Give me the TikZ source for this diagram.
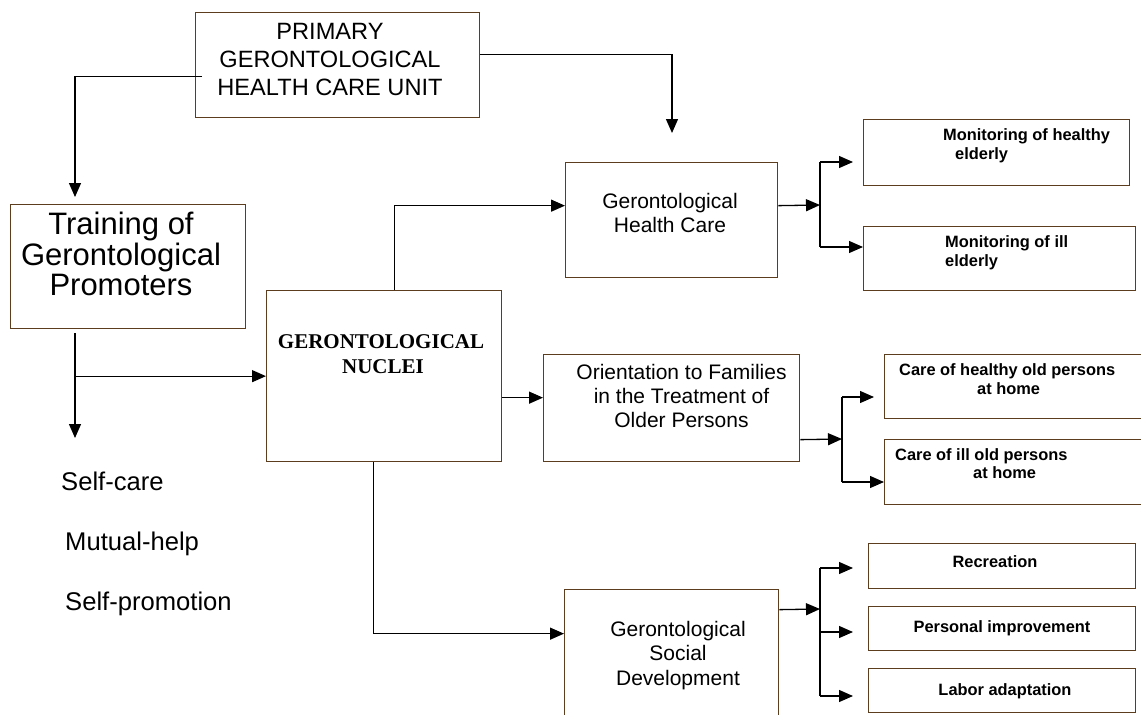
\documentclass[tikz,border=0pt]{standalone}
\usepackage{fontspec}
\setmainfont{Liberation Sans}
\newfontfamily\timesf{Liberation Serif}
\usetikzlibrary{arrows.meta,calc}
\definecolor{boxbrown}{RGB}{92,62,30}
\begin{document}
\begin{tikzpicture}[x=1pt,y=-1pt,
  box/.style={draw=boxbrown, line width=1.3pt, anchor=north west, inner sep=0pt},
  conn/.style={line width=1.3pt, -{Triangle[length=14pt,width=12pt]}},
  plain/.style={line width=1.3pt},
  big/.style={font=\fontsize{31}{31}\selectfont, anchor=base, inner sep=0pt},
  topf/.style={font=\fontsize{23.6}{28}\selectfont, anchor=base, inner sep=0pt},
  mid/.style={font=\fontsize{21}{24}\selectfont, anchor=base, inner sep=0pt},
  nuc/.style={font=\timesf\bfseries\fontsize{21}{25}\selectfont, anchor=base, inner sep=0pt},
  small/.style={font=\bfseries\fontsize{16.4}{19}\selectfont, anchor=base west, inner sep=0pt},
  smallc/.style={font=\bfseries\fontsize{16.4}{19}\selectfont, anchor=base, inner sep=0pt},
  self/.style={font=\fontsize{25.6}{30}\selectfont, anchor=base west, inner sep=0pt}]
\useasboundingbox (0,0) rectangle (1141,715);
\clip (0,0) rectangle (1141,715);

% boxes
\node[box, minimum width=284pt, minimum height=105pt] (top) at (195,12) {};
\node[box, minimum width=235pt, minimum height=124pt] (train) at (10,204) {};
\node[box, minimum width=235pt, minimum height=171pt] (nuclei) at (266,290) {};
\node[box, minimum width=212pt, minimum height=115pt] (health) at (565,162) {};
\node[box, minimum width=256pt, minimum height=107pt] (orient) at (543,354) {};
\node[box, minimum width=214pt, minimum height=150pt] (social) at (564,589) {};
\node[box, minimum width=266pt, minimum height=66pt] (monH) at (863,119) {};
\node[box, minimum width=272pt, minimum height=64pt] (monI) at (863,226) {};
\node[box, minimum width=280pt, minimum height=64pt] (careH) at (884,354) {};
\node[box, minimum width=280pt, minimum height=65pt] (careI) at (884,439) {};
\node[box, minimum width=267pt, minimum height=45pt] (rec) at (868,543) {};
\node[box, minimum width=267pt, minimum height=44pt] (pers) at (868,606) {};
\node[box, minimum width=267pt, minimum height=44pt] (labor) at (868,668) {};

% texts
\node[topf] (t1) at (330,39) {PRIMARY};
\node[topf] (t2) at (330,67) {GERONTOLOGICAL};
\node[topf] (t3) at (330,95) {HEALTH CARE UNIT};
\node[big] (tr1) at (121,234) {Training of};
\node[big] (tr2) at (121,265) {Gerontological};
\node[big] (tr3) at (121,295) {Promoters};
\node[nuc] (n1) at (381,348) {GERONTOLOGICAL};
\node[nuc] (n2) at (383,373) {NUCLEI};
\node[mid] (h1) at (670,208) {Gerontological};
\node[mid] (h2) at (670,232) {Health Care};
\node[mid] (o1) at (681.5,379) {Orientation to Families};
\node[mid] (o2) at (681.5,403) {in the Treatment of};
\node[mid] (o3) at (681.5,427) {Older Persons};
\node[mid] (s1) at (678,636) {Gerontological};
\node[mid] (s2) at (678,660) {Social};
\node[mid] (s3) at (678,685) {Development};
\node[self] (sc) at (61,490) {Self-care};
\node[self] (mh) at (65,550) {Mutual-help};
\node[self] (sp) at (65,610) {Self-promotion};
\node[small] (mh1) at (943,140) {Monitoring of healthy};
\node[small] (mh2) at (955,159) {elderly};
\node[small] (mi1) at (945,247) {Monitoring of ill};
\node[small] (mi2) at (945,266) {elderly};
\node[small] (ch1) at (899,375) {Care of healthy old persons};
\node[small] (ch2) at (977,394) {at home};
\node[small] (ci1) at (895,460) {Care of ill old persons};
\node[small] (ci2) at (973,478) {at home};
\node[smallc] (r1) at (995,567) {Recreation};
\node[smallc] (p1) at (1002,632) {Personal improvement};
\node[smallc] (l1) at (1005,695) {Labor adaptation};

% helper coordinates
\coordinate (hcIn) at (672,133);
\coordinate (trIn) at (75,197);
\coordinate (trOut) at (75,333);
\coordinate (selfIn) at (75,438);
\coordinate (hb) at (820,205);
\coordinate (hb1) at (820,162);
\coordinate (hb2) at (820,247);
\coordinate (ob) at (842,439);
\coordinate (ob1) at (842,397);
\coordinate (ob2) at (842,482);
\coordinate (sb) at (820,609);
\coordinate (sb1) at (820,568);
\coordinate (sb2) at (820,632);
\coordinate (sb3) at (820,696);

% connectors
\draw[conn] ([yshift=10.5pt]top.east) -| (hcIn);
\draw[conn] ([xshift=7pt,yshift=-11.5pt]top.west) -| (trIn);
\draw[conn] (trOut) -- (selfIn);
\draw[conn] (trOut |- nuclei.west) -- (nuclei.west);
\draw[conn] ([xshift=10.5pt]nuclei.north) |- ([yshift=14.5pt]health.west);
\draw[conn] ([yshift=-21.5pt]nuclei.east) -- ([yshift=-21.5pt]nuclei.east -| orient.west);
\draw[conn] ([xshift=-10.5pt]nuclei.south) |- ([yshift=31pt]social.west);

\draw[conn] ([yshift=14.5pt]health.east) -- (hb);
\draw[plain] (hb1) -- (hb2);
\draw[conn] (hb1) -- ([xshift=-10pt]hb1 -| monH.west);
\draw[conn] (hb2) -- (hb2 -| monI.west);

\draw[conn] ([yshift=-31.5pt]orient.east) -- (ob);
\draw[plain] (ob1) -- (ob2);
\draw[conn] (ob1) -- ([xshift=-10pt]ob1 -| careH.west);
\draw[conn] (ob2) -- (ob2 -| careI.west);

\draw[conn] ([yshift=55pt]social.east) -- (sb);
\draw[plain] (sb1) -- (sb3);
\draw[conn] (sb1) -- ([xshift=-15pt]sb1 -| rec.west);
\draw[conn] (sb2) -- ([xshift=-15pt]sb2 -| pers.west);
\draw[conn] (sb3) -- ([xshift=-15pt]sb3 -| labor.west);
\end{tikzpicture}
\end{document}
